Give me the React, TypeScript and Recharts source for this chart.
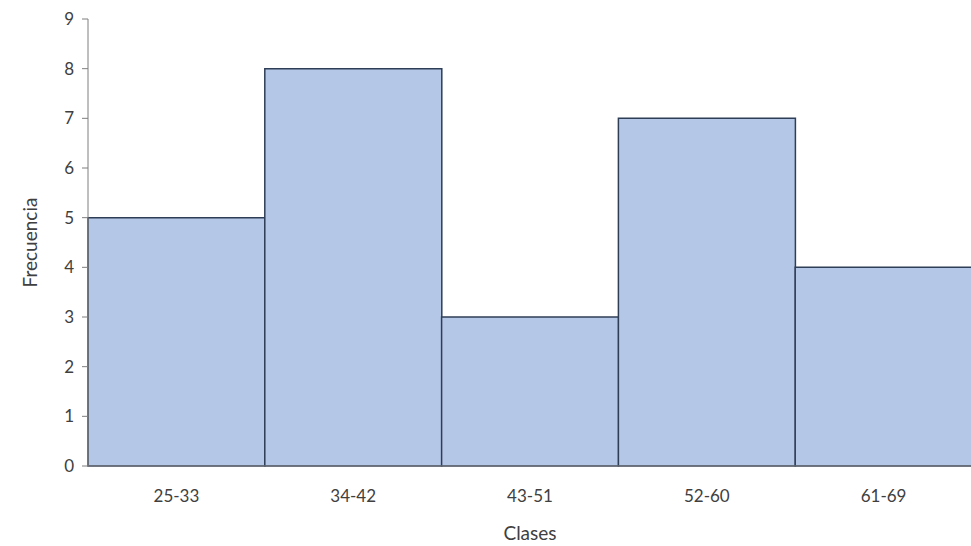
import { Bar, BarChart, XAxis, YAxis } from "recharts";

const clases = ["25-33", "34-42", "43-51", "52-60", "61-69"];
const frecuencia = [5, 8, 3, 7, 4];
const yTicks = [0, 1, 2, 3, 4, 5, 6, 7, 8, 9];

const data = clases.map((c, i) => ({ clase: c, frecuencia: frecuencia[i] }));

const font = { fontFamily: "Lato, 'Open Sans', sans-serif", fontSize: 17, fill: "#404040" };

export default function App() {
  return (
    <div style={{ position: "absolute", left: 0, top: 0, background: "#fff" }}>
      <BarChart width={972} height={546} data={data} barCategoryGap={0} margin={{ top: 19, right: 0, left: 0, bottom: 0 }}>
        <XAxis
          dataKey="clase"
          height={80}
          tick={font}
          tickLine={false}
          axisLine={{ stroke: "#7f7f7f" }}
          tickMargin={18}
          label={{ value: "Clases", position: "insideBottom", offset: 6, style: { ...font, fontSize: 19 } }}
        />
        <YAxis
          width={88}
          domain={[0, 9]}
          ticks={yTicks}
          interval={0}
          tick={font}
          tickSize={6}
          tickLine={{ stroke: "#7f7f7f" }}
          axisLine={{ stroke: "#7f7f7f" }}
          tickMargin={8}
          label={{ value: "Frecuencia", angle: -90, position: "insideLeft", offset: 30, style: { ...font, fontSize: 19, textAnchor: "middle" } }}
        />
        <Bar dataKey="frecuencia" fill="#b4c7e7" stroke="#2f3e57" strokeWidth={1.5} isAnimationActive={false} />
      </BarChart>
    </div>
  );
}
